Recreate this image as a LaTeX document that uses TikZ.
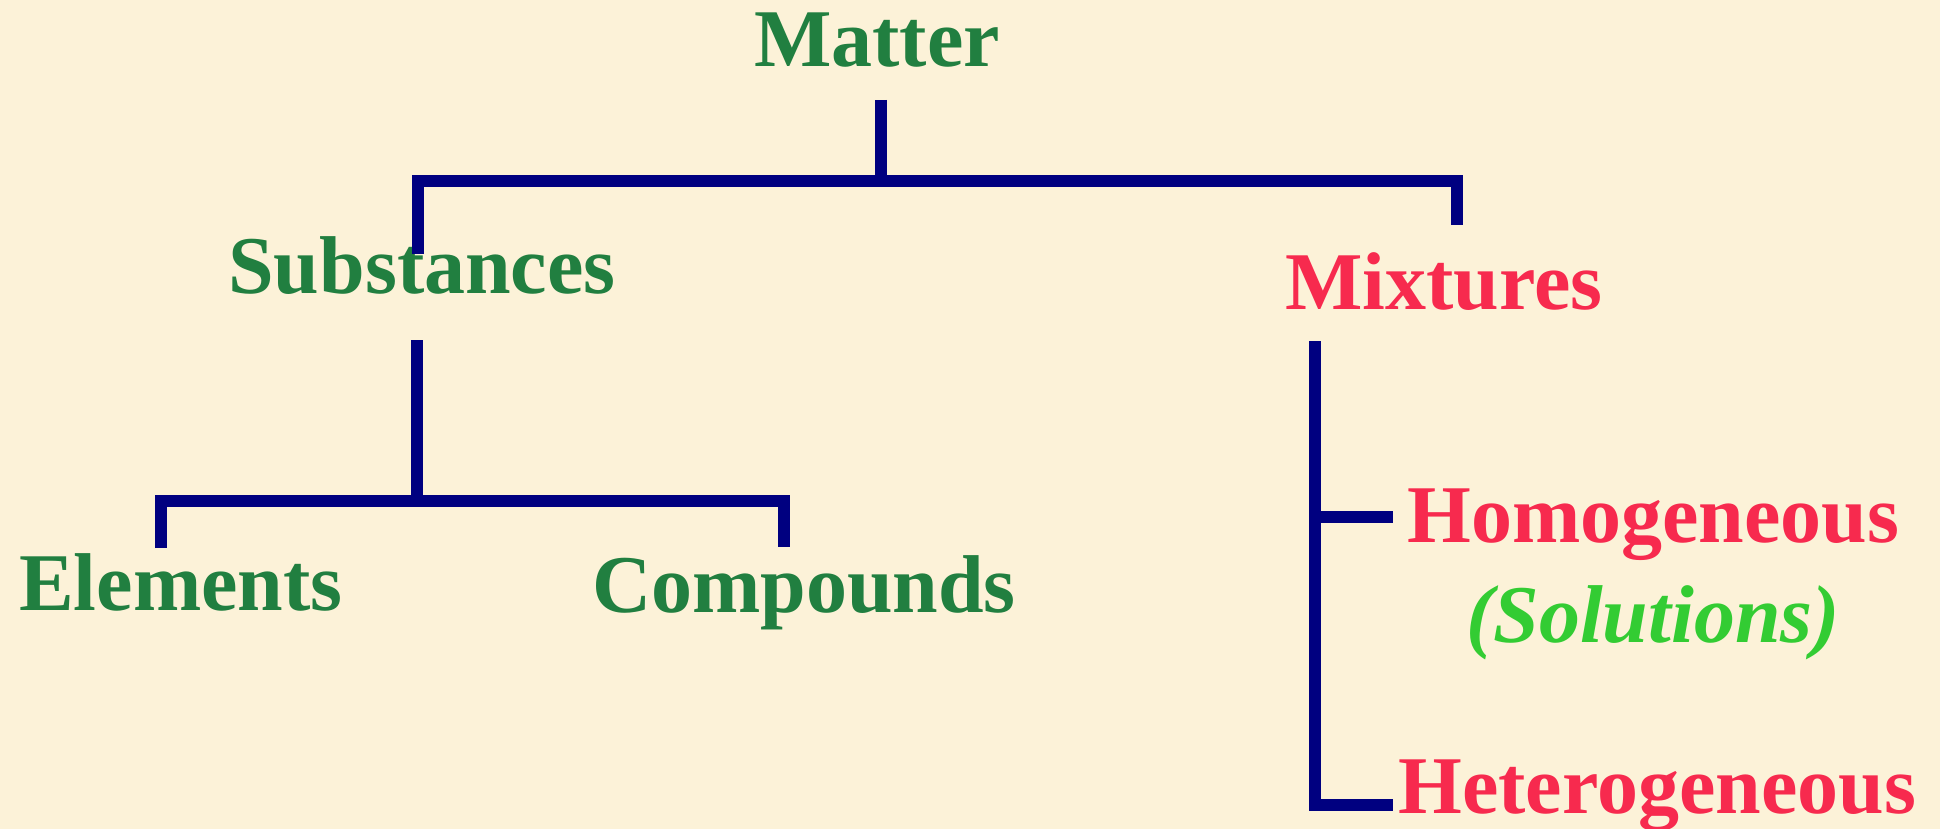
\documentclass[tikz,border=0pt]{standalone}
\usepackage{fontspec}
\setmainfont{Liberation Serif}
\definecolor{bg}{RGB}{252,242,216}
\definecolor{dkgreen}{RGB}{33,127,64}
\definecolor{rosered}{RGB}{247,42,78}
\definecolor{brgreen}{RGB}{51,204,51}
\definecolor{navyline}{RGB}{0,0,128}
\begin{document}
\begin{tikzpicture}[x=1pt,y=-1pt,
  lbl/.style={inner sep=0pt,font=\fontsize{82}{82}\selectfont\bfseries},
  grn/.style={lbl,text=dkgreen},
  red/.style={lbl,text=rosered},
  sol/.style={lbl,text=brgreen,font=\fontsize{82}{82}\selectfont\bfseries\itshape},
  br/.style={draw=navyline,line width=12pt,line cap=butt,line join=miter}]
\fill[bg] (0,0) rectangle (1940,829);
\useasboundingbox (0,0) rectangle (1940,829);
% texts
\node[grn,anchor=base] (matter) at (877,67) {Matter};
\node[grn,anchor=base] (subst) at (422,293) {Substances};
\node[red,anchor=base] (mix) at (1444,309) {Mixtures};
\node[grn,anchor=base west] (elem) at (19,610) {Elements};
\node[grn,anchor=base] (comp) at (804,612) {Compounds};
\node[red,anchor=base west] (homo) at (1407,542) {Homogeneous};
\node[sol,anchor=base] (solu) at (1653,642) {(Solutions)};
\node[red,anchor=base west] (hetero) at (1398,813) {Heterogeneous};
% coordinates
\coordinate (mtop) at (881,100);
\coordinate (mbar) at (881,181);
\coordinate (sbarL) at (418,181);
\coordinate (sdown) at (418,254);
\coordinate (mbarR) at (1457,181);
\coordinate (mxdown) at (1457,225);
\coordinate (stop) at (417,340);
\coordinate (sbar) at (417,501);
\coordinate (ebar) at (161,501);
\coordinate (edown) at (161,548);
\coordinate (cbar) at (784,501);
\coordinate (cdown) at (784,547);
\coordinate (xtop) at (1315,341);
\coordinate (xhomo) at (1315,517);
\coordinate (xbot) at (1315,805);
\coordinate (homoend) at (1393,517);
\coordinate (hetend) at (1393,805);
% connectors
\draw[br] (mtop) -- (mbar);
\draw[br] (sdown) -- (sbarL) -- (mbarR) -- (mxdown);
\draw[br] (stop) -- (sbar);
\draw[br] (edown) -- (ebar) -- (cbar) -- (cdown);
\draw[br] (xtop) -- (xbot) -- (hetend);
\draw[br] (xhomo) -- (homoend);
\end{tikzpicture}
\end{document}
